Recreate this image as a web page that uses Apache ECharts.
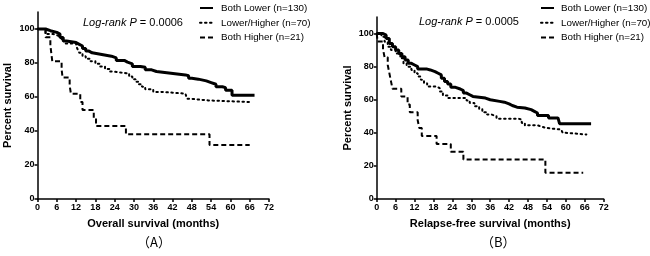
<!DOCTYPE html>
<html>
<head>
<meta charset="utf-8">
<script src="https://cdn.jsdelivr.net/npm/echarts@6/dist/echarts.min.js"></script>
<style>
  html, body { margin: 0; padding: 0; background: #fff; }
  #main { width: 650px; height: 256px; }
</style>
</head>
<body>
<div id="main"></div>
<script>
// 数据：Kaplan-Meier 曲线 [月, 生存率%]
var groupNames = ["Both Lower (n=130)", "Lower/Higher (n=70)", "Both Higher (n=21)"];
var xTicks = [0, 6, 12, 18, 24, 30, 36, 42, 48, 54, 60, 66, 72];
var yTicks = [0, 20, 40, 60, 80, 100];

// (A) Overall survival
var osLower = [[0,100],[2.5,99],[4,98],[6,97],[7,95],[8,93],[9,92],[12,91],[13,90],[14,88.5],[15,87],[16,86],[17,85],[20,84],[23,83],[24.5,81.5],[27,80.5],[28,79.5],[29.5,78],[32,77.5],[33.5,76],[35.5,75],[37,74],[41.5,73],[46,72.5],[47,71],[48,70.5],[50,69.5],[52.5,68.5],[54,67.5],[55.5,66],[57.5,65.5],[58.5,64],[60.5,61],[67.5,61]];
var osMixed = [[0,100],[2.5,97],[5,96],[6.5,95],[7.5,93],[8.5,91.5],[12,90],[12.5,88],[13,86],[14,84],[15,82.5],[16.5,81],[18,79.5],[19.5,78],[21,76.5],[22.5,75],[23.5,74],[27.5,74],[28.5,72],[29.5,70.5],[30.5,69],[31.5,67.5],[32.5,66],[33.5,64.5],[36,63],[38.5,62],[46,61.5],[46.5,59],[47.5,58],[53,58],[53.5,57],[66.5,57]];
var osHigher = [[0,100],[2.5,95.2],[4,90.5],[4.3,85.7],[4.6,81],[7.5,76.2],[7.8,71.4],[10,66.7],[10.4,61.9],[13.3,57.1],[14,52.4],[17.5,47.6],[18.2,42.9],[27.5,38.1],[53.5,31.7],[66,31.7]];

// (B) Relapse-free survival
var rfsLower = [[0,100],[2,99],[3,97],[4,94],[5,92],[6,90],[7,88],[8,86],[9,84],[10,82],[11,81],[12,80],[13,78.5],[16,78],[17,77],[18.5,76],[19.5,75],[20.5,73],[21.5,71],[22.5,69.5],[23.5,67.5],[25,66.5],[26.5,65.5],[27.5,64],[28.5,63],[29.5,62],[30.5,61],[34.5,60],[36,59],[39,58.5],[40.5,57.5],[42,56.5],[43,55.5],[44.5,55],[47,54],[49,53],[50,52],[51,50.5],[54.5,49],[57.5,49],[58,45.5],[68,45.5]];
var rfsMixed = [[0,100],[1.5,98],[2.5,95],[3.5,92],[4.5,90],[6,88],[7.5,85],[8.5,82],[9.5,80],[11,78],[12,76],[13,74],[14,72],[15,70],[16,68],[19,67],[20,65],[21,62.5],[22.5,61],[27.5,61],[28.5,59.5],[29.5,58],[31,56],[32.5,54.5],[33.5,52.5],[35,51],[36.5,50],[38,48.5],[45,48],[46,46],[47,44.5],[51,44],[52,43],[53.5,42],[58.5,42],[59,40],[60,39],[66.5,39]];
var rfsHigher = [[0,100],[0.3,95.2],[2,90.5],[2.5,85.7],[3.5,81],[4,76.2],[4.5,71.4],[5,66.7],[7.8,61.9],[9.8,57.1],[10.5,52.4],[13,47.6],[13.5,42.9],[14.3,38.1],[19,33.3],[23.5,28.6],[27.5,23.8],[53.5,15.9],[65.5,15.9]];

var FONT = 'Arial, "Liberation Sans", sans-serif';
var myChart = echarts.init(document.getElementById("main"));

function xAxisFor(idx, name) {
  return {
    type: "value", gridIndex: idx, min: 0, max: 72, interval: 6,
    name: name, nameLocation: "middle", nameGap: 19,
    nameTextStyle: { fontFamily: FONT, fontSize: 11, fontWeight: "bold", color: "#000" },
    axisLine: { lineStyle: { color: "#000", width: 1.5 } },
    axisTick: { length: 3, lineStyle: { color: "#000", width: 1.5 }, customValues: xTicks },
    axisLabel: { fontFamily: FONT, fontSize: 9, fontWeight: "bold", color: "#000", margin: 4, customValues: xTicks },
    splitLine: { show: false }
  };
}
function yAxisFor(idx, gap) {
  return {
    type: "value", gridIndex: idx, min: 0, max: 110,
    name: "Percent survival", nameLocation: "middle", nameGap: gap,
    nameTextStyle: { fontFamily: FONT, fontSize: 11, fontWeight: "bold", color: "#000" },
    axisLine: { show: true, lineStyle: { color: "#000", width: 1.5 } },
    axisTick: { show: true, length: 3, lineStyle: { color: "#000", width: 1.5 }, customValues: yTicks },
    axisLabel: { fontFamily: FONT, fontSize: 9, fontWeight: "bold", color: "#000", margin: 3, customValues: yTicks },
    splitLine: { show: false }
  };
}
function km(name, data, idx, kind) {
  var ls = { color: "#000", width: 2 };
  if (kind === "solid") ls.width = 3;
  if (kind === "dotted") { ls.type = [1.5, 3.5]; ls.cap = "round"; }
  if (kind === "dashed") ls.type = [5, 3];
  return {
    name: name, type: "line", step: "end", data: data,
    xAxisIndex: idx, yAxisIndex: idx, symbol: "none",
    lineStyle: ls, itemStyle: { color: "#000" }
  };
}
function legendAt(left, pad) {
  return {
    left: left, top: 2, padding: 0, orient: "vertical", data: groupNames,
    itemWidth: 13, itemHeight: 8, itemGap: 2.8,
    itemStyle: { color: "transparent", borderWidth: 0, opacity: 0 },
    textStyle: { fontFamily: FONT, fontSize: 9.8, color: "#000", lineHeight: 12, padding: [0, 0, 0, pad] },
    selectedMode: false
  };
}

var option = {
  animation: false,
  grid: [
    { left: 37.5, top: 12, width: 231.5, height: 187, containLabel: false },
    { left: 376.7, top: 17, width: 227, height: 182, containLabel: false }
  ],
  xAxis: [xAxisFor(0, "Overall survival (months)"), xAxisFor(1, "Relapse-free survival (months)")],
  yAxis: [yAxisFor(0, 24), yAxisFor(1, 23)],
  legend: [legendAt(199, 3), legendAt(540, 2)],
  series: [
    km(groupNames[0], osLower, 0, "solid"),
    km(groupNames[1], osMixed, 0, "dotted"),
    km(groupNames[2], osHigher, 0, "dashed"),
    km(groupNames[0], rfsLower, 1, "solid"),
    km(groupNames[1], rfsMixed, 1, "dotted"),
    km(groupNames[2], rfsHigher, 1, "dashed")
  ],
  graphic: [
    { type: "text", left: 83, top: 17, style: { text: "{i|Log-rank P} = 0.0006", fontFamily: FONT, fontSize: 11, fill: "#000", rich: { i: { fontStyle: "italic", fontFamily: FONT, fontSize: 11 } } } },
    { type: "text", left: 419, top: 16, style: { text: "{i|Log-rank P} = 0.0005", fontFamily: FONT, fontSize: 11, fill: "#000", rich: { i: { fontStyle: "italic", fontFamily: FONT, fontSize: 11 } } } },
    { type: "text", left: 137, top: 236, style: { text: "（A）", fontFamily: '"Noto Sans CJK SC", sans-serif', fontSize: 13, fill: "#000" } },
    { type: "text", left: 481, top: 236, style: { text: "（B）", fontFamily: '"Noto Sans CJK SC", sans-serif', fontSize: 13, fill: "#000" } }
  ]
};

myChart.setOption(option);
</script>
</body>
</html>
